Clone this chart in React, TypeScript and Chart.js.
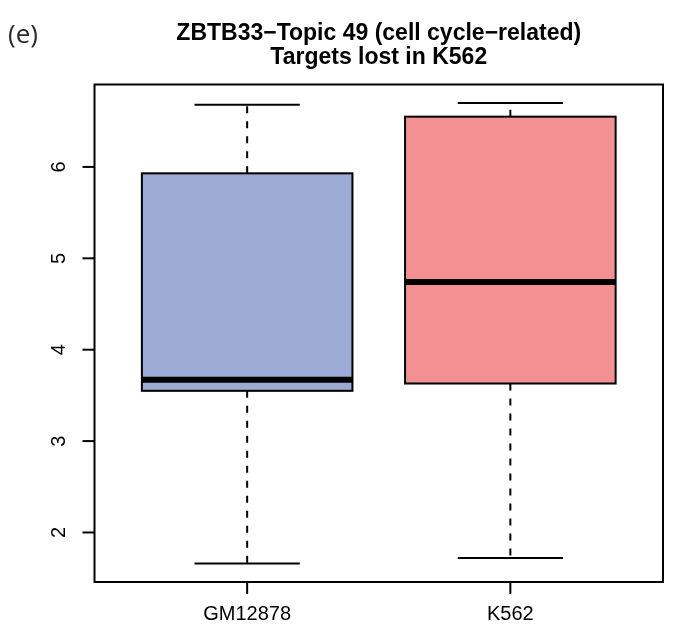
import React, { useEffect, useRef } from "react";
import { Chart, registerables } from "chart.js";

Chart.register(...registerables);

// ---- data ----
const categories = ["GM12878", "K562"];
const mins = [1.66, 1.72];
const q1s = [3.55, 3.63];
const medians = [3.67, 4.74];
const q3s = [5.93, 6.55];
const maxs = [6.68, 6.7];
const yTicks = [2, 3, 4, 5, 6];
const fills = ["#9DAAD4", "#F39091"];
const titleLines = ["ZBTB33\u2212Topic 49 (cell cycle\u2212related)", "Targets lost in K562"];
const panelLabel = "(e)";

const FONT = "'Liberation Sans', Arial, Helvetica, sans-serif";

const rBoxPlugin = {
  id: "rBoxPlugin",
  afterDraw(chart: any) {
    const { ctx, chartArea: a, scales } = chart;
    const x = scales.x;
    const y = scales.y;
    ctx.save();
    ctx.strokeStyle = "#000";
    ctx.lineCap = "butt";

    categories.forEach((_c, i) => {
      const pos = i + 1;
      const xc = x.getPixelForValue(pos);
      const xl = x.getPixelForValue(pos - 0.4);
      const xr = x.getPixelForValue(pos + 0.4);
      const sl = x.getPixelForValue(pos - 0.2);
      const sr = x.getPixelForValue(pos + 0.2);
      const yMin = y.getPixelForValue(mins[i]);
      const yQ1 = y.getPixelForValue(q1s[i]);
      const yMed = y.getPixelForValue(medians[i]);
      const yQ3 = y.getPixelForValue(q3s[i]);
      const yMax = y.getPixelForValue(maxs[i]);

      // whiskers (dashed)
      ctx.lineWidth = 2;
      ctx.setLineDash([7, 8]);
      ctx.beginPath();
      ctx.moveTo(xc, yQ3);
      ctx.lineTo(xc, yMax);
      ctx.moveTo(xc, yQ1);
      ctx.lineTo(xc, yMin);
      ctx.stroke();
      ctx.setLineDash([]);

      // staples
      ctx.beginPath();
      ctx.moveTo(sl, yMax);
      ctx.lineTo(sr, yMax);
      ctx.moveTo(sl, yMin);
      ctx.lineTo(sr, yMin);
      ctx.stroke();

      // box
      ctx.fillStyle = fills[i];
      ctx.fillRect(xl, yQ3, xr - xl, yQ1 - yQ3);
      ctx.strokeRect(xl, yQ3, xr - xl, yQ1 - yQ3);

      // median
      ctx.lineWidth = 6;
      ctx.beginPath();
      ctx.moveTo(xl, yMed);
      ctx.lineTo(xr, yMed);
      ctx.stroke();
    });

    // plot frame
    ctx.lineWidth = 2;
    ctx.strokeRect(a.left, a.top, a.right - a.left, a.bottom - a.top);

    // y axis ticks + labels
    ctx.fillStyle = "#000";
    ctx.font = `20px ${FONT}`;
    yTicks.forEach((v) => {
      const py = y.getPixelForValue(v);
      ctx.beginPath();
      ctx.moveTo(a.left - 12, py);
      ctx.lineTo(a.left, py);
      ctx.stroke();
      ctx.save();
      ctx.translate(a.left - 35, py);
      ctx.rotate(-Math.PI / 2);
      ctx.textAlign = "center";
      ctx.textBaseline = "middle";
      ctx.fillText(String(v), 0, 0);
      ctx.restore();
    });

    // x axis ticks + labels
    categories.forEach((c, i) => {
      const px = x.getPixelForValue(i + 1);
      ctx.beginPath();
      ctx.moveTo(px, a.bottom);
      ctx.lineTo(px, a.bottom + 12);
      ctx.stroke();
      ctx.textAlign = "center";
      ctx.textBaseline = "middle";
      ctx.fillText(c, px, a.bottom + 32);
    });

    // title
    const cx = (a.left + a.right) / 2;
    ctx.font = `bold 23px ${FONT}`;
    ctx.textAlign = "center";
    ctx.textBaseline = "middle";
    ctx.fillText(titleLines[0], cx, 34);
    ctx.fillText(titleLines[1], cx, 58);

    // panel label
    ctx.font = `26px 'Open Sans', 'DejaVu Sans', sans-serif`;
    ctx.fillStyle = "#2a2a2a";
    ctx.textAlign = "left";
    ctx.textBaseline = "middle";
    ctx.fillText(panelLabel, 8, 36);

    ctx.restore();
  },
};

export default function App() {
  const ref = useRef<HTMLCanvasElement | null>(null);

  useEffect(() => {
    document.body.style.margin = "0";
    const canvas = ref.current;
    if (!canvas) return;
    const chart = new Chart(canvas, {
      type: "scatter",
      data: {
        datasets: [
          {
            data: categories.map((_c, i) => ({ x: i + 1, y: medians[i] })),
            pointRadius: 0,
            pointHoverRadius: 0,
          },
        ],
      },
      options: {
        animation: false,
        responsive: false,
        devicePixelRatio: 1,
        layout: { padding: { top: 84.5, right: 10, left: 0, bottom: 0 } },
        plugins: { legend: { display: false }, tooltip: { enabled: false }, title: { display: false } },
        scales: {
          x: {
            type: "linear",
            min: 0.42,
            max: 2.58,
            grid: { display: false },
            border: { display: false },
            ticks: { display: false },
            afterFit: (s: any) => {
              s.height = 50;
            },
          },
          y: {
            type: "linear",
            min: 1.458,
            max: 6.902,
            grid: { display: false },
            border: { display: false },
            ticks: { display: false },
            afterFit: (s: any) => {
              s.width = 94.5;
            },
          },
        },
      },
      plugins: [rBoxPlugin],
    });
    return () => chart.destroy();
  }, []);

  return (
    <div style={{ width: 673, height: 632, background: "#fff" }}>
      <canvas ref={ref} width={673} height={632} style={{ display: "block" }} />
    </div>
  );
}
